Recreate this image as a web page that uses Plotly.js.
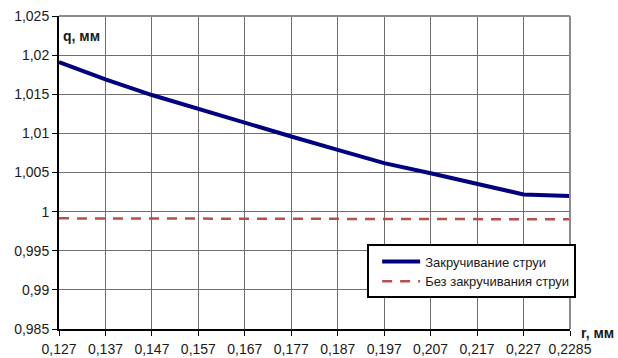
<!DOCTYPE html>
<html>
<head>
<meta charset="utf-8">
<script src="https://cdn.plot.ly/plotly-3.0.1.min.js"></script>
<style>
  html, body { margin: 0; padding: 0; background: #fff; }
  #chart { width: 618px; height: 358px; }
</style>
</head>
<body>
<div id="chart"></div>
<script>
// Radius values (category labels on the x axis)
const radiusLabels = ['0,127', '0,137', '0,147', '0,157', '0,167', '0,177',
                      '0,187', '0,197', '0,207', '0,217', '0,227', '0,2285'];

// q, mm — with jet swirl
const qSwirl = [1.0191, 1.0169, 1.0149, 1.0131, 1.0113, 1.0096,
                1.0079, 1.0062, 1.0049, 1.0036, 1.0022, 1.0020];

// q, mm — without jet swirl
const qNoSwirl = [0.99914, 0.99913, 0.99912, 0.99911, 0.99910, 0.99909,
                  0.99908, 0.99906, 0.99905, 0.99904, 0.99903, 0.99902];

const seriesNames = ['Закручивание струи', 'Без закручивания струи'];

const family = 'Liberation Sans, Arial, sans-serif';
const font = { family: family, size: 14, color: '#1a1a1a' };

const traces = [
  {
    x: radiusLabels, y: qSwirl, name: seriesNames[0], type: 'scatter', mode: 'lines',
    line: { color: '#000080', width: 4 }, legendgroup: 'a'
  },
  {
    x: radiusLabels, y: qNoSwirl, name: seriesNames[1], type: 'scatter', mode: 'lines',
    line: { color: '#b5504c', width: 2.5, dash: '10px,8px' }, legendgroup: 'b'
  }
];

const layout = {
  width: 618, height: 358,
  margin: { l: 59, r: 48, t: 16, b: 29 },
  paper_bgcolor: '#ffffff', plot_bgcolor: '#ffffff',
  separators: ', ',
  font: font,
  showlegend: true,
  legend: {
    x: 0.603, y: 0.27, xanchor: 'left', yanchor: 'top',
    bgcolor: '#ffffff', bordercolor: '#000000', borderwidth: 2,
    font: { family: family, size: 13, color: '#1a1a1a' },
    tracegroupgap: 0, indentation: 8, itemwidth: 38
  },
  xaxis: {
    type: 'category', range: [0, 11],
    showgrid: true, gridcolor: '#6e6e6e', gridwidth: 1,
    showline: true, linecolor: '#000000', linewidth: 2,
    ticks: 'outside', ticklen: 5, tickcolor: '#000000', tickwidth: 1,
    ticklabelstandoff: 1,
    tickfont: font, zeroline: false, fixedrange: true
  },
  yaxis: {
    range: [0.985, 1.025], dtick: 0.005, tick0: 0.985,
    showgrid: true, gridcolor: '#6e6e6e', gridwidth: 1,
    showline: true, linecolor: '#000000', linewidth: 2,
    ticks: 'outside', ticklen: 5, tickcolor: '#000000', tickwidth: 1,
    tickfont: font, zeroline: false, fixedrange: true
  },
  shapes: [
    { type: 'line', xref: 'paper', yref: 'paper', x0: 0, x1: 1, y0: 1, y1: 1,
      line: { color: '#8c8c8c', width: 2 } },
    { type: 'line', xref: 'paper', yref: 'paper', x0: 1, x1: 1, y0: 0, y1: 1,
      line: { color: '#8c8c8c', width: 2 } }
  ],
  annotations: [
    { text: '<b>q, мм</b>', xref: 'paper', yref: 'paper', x: 0.003, y: 0.935,
      xanchor: 'left', yanchor: 'middle', showarrow: false,
      font: { family: family, size: 14, color: '#1a1a1a' } },
    { text: '<b>r, мм</b>', xref: 'paper', yref: 'paper', x: 1.018, y: -0.013,
      xanchor: 'left', yanchor: 'middle', showarrow: false,
      font: { family: family, size: 14, color: '#1a1a1a' } }
  ]
};

Plotly.newPlot('chart', traces, layout, { staticPlot: true, displayModeBar: false });
</script>
</body>
</html>
